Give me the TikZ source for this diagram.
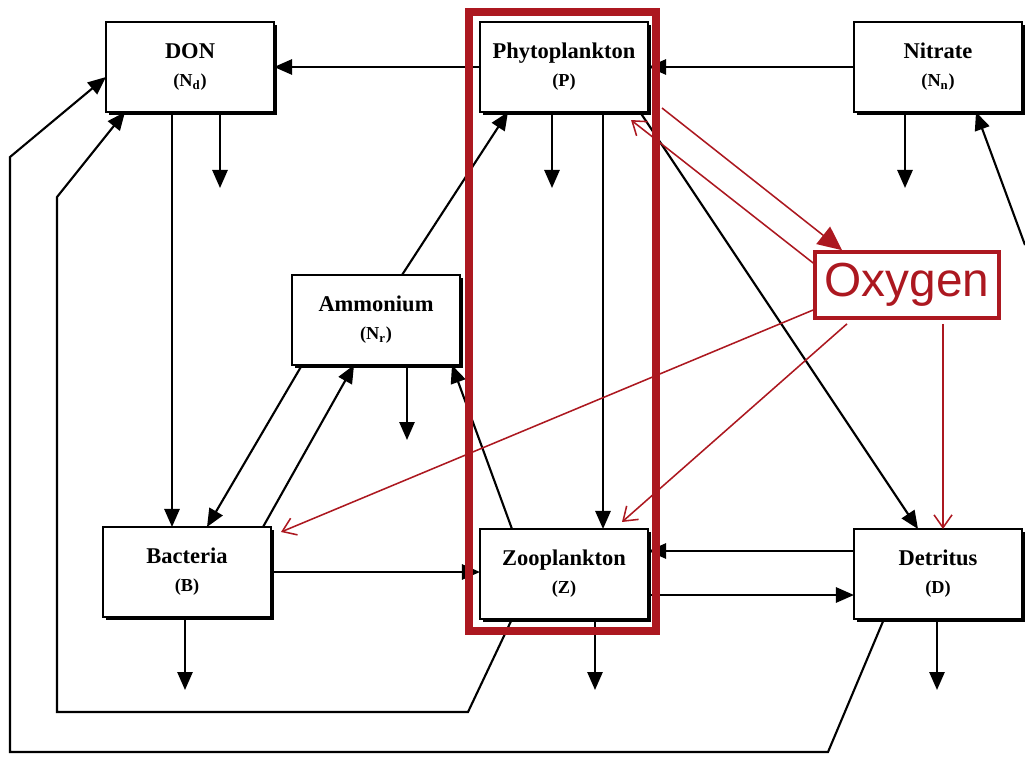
\documentclass[tikz,border=0pt]{standalone}
\usepackage{fontspec}
\setmainfont{Liberation Serif}
\newfontfamily\oxyfont{Liberation Sans}
\usetikzlibrary{arrows.meta,shadows}
\definecolor{oxred}{RGB}{172,24,32}

\begin{document}
\begin{tikzpicture}[x=0.025cm,y=-0.025cm,
    box/.style={draw, line width=1.6pt, fill=white, minimum width=4.2cm, minimum height=2.25cm,
        inner sep=0pt, outer sep=0pt, align=center, font=\fontsize{16}{19}\selectfont\bfseries,
        drop shadow={shadow xshift=2pt, shadow yshift=-2pt, opacity=1, fill=black}},
    oxy/.style={draw=oxred, text=oxred, line width=2.6pt, minimum width=4.6cm, minimum height=1.65cm,
        inner sep=0pt, font=\oxyfont\fontsize{34}{37}\selectfont},
    flow/.style={line width=1.5pt, -{Triangle[length=0.45cm,width=0.38cm]}},
    oflow/.style={oxred, line width=1.1pt, -{Straight Barb[length=0.32cm,width=0.45cm]}}]
    \useasboundingbox (0,0) rectangle (1025,757);

    % compartments
    \node[box] (don) at (190,67) {DON\\[1pt]{\fontsize{13}{15}\selectfont(N\textsubscript{d})}};
    \node[box] (phy) at (564,67) {Phytoplankton\\[1pt]{\fontsize{13}{15}\selectfont(P)}};
    \node[box] (nit) at (938,67) {Nitrate\\[1pt]{\fontsize{13}{15}\selectfont(N\textsubscript{n})}};
    \node[box] (amm) at (376,320) {Ammonium\\[1pt]{\fontsize{13}{15}\selectfont(N\textsubscript{r})}};
    \node[box] (bac) at (187,572) {Bacteria\\[1pt]{\fontsize{13}{15}\selectfont(B)}};
    \node[box] (zoo) at (564,574) {Zooplankton\\[1pt]{\fontsize{13}{15}\selectfont(Z)}};
    \node[box] (det) at (938,574) {Detritus\\[1pt]{\fontsize{13}{15}\selectfont(D)}};
    \node[oxy] (oxy) at (907,285) {Oxygen};

    % losses
    \coordinate (don-loss) at (220,188);
    \coordinate (phy-loss) at (552,188);
    \coordinate (nit-loss) at (905,188);
    \coordinate (amm-loss) at (407,440);
    \coordinate (bac-loss) at (185,690);
    \coordinate (zoo-loss) at (595,690);
    \coordinate (det-loss) at (937,690);
    \foreach \b in {don,phy,nit,amm,bac,zoo,det}
        \draw[flow] (\b.south -| \b-loss) -- (\b-loss);

    \draw[flow] (phy.west) -- (don.east);
    \draw[flow] (nit.west) -- (phy.east);
    \draw[flow] (don.south -| 172,0) -- (bac.north -| 172,0);
    \draw[flow] (phy.south -| 603,0) -- (zoo.north -| 603,0);
    \draw[flow] (phy.south -| 640,0) -- (det.north -| 918,0);
    \draw[flow] (amm.north -| 402,0) -- (phy.south -| 508,0);
    \draw[flow] (amm.south -| 302,0) -- (bac.north -| 207,0);
    \draw[flow] (bac.north -| 263,0) -- (amm.south -| 354,0);
    \draw[flow] (zoo.north -| 512,0) -- (amm.south -| 452,0);
    \draw[flow] (bac.east) -- (zoo.west |- bac.east);
    \draw[flow] (det.west |- 0,551) -- (zoo.east |- 0,551);
    \draw[flow] (zoo.east |- 0,595) -- (det.west |- 0,595);
    \coordinate (nit-src) at (1025,245);
    \draw[flow] (nit-src) -- (nit.south -| 976,0);

    % return paths to DON
    \coordinate (zr1) at (468,712);
    \coordinate (zr2) at (57,712);
    \coordinate (zr3) at (57,197);
    \draw[flow] (zoo.south -| 512,0) -- (zr1) -- (zr2) -- (zr3) -- (don.south -| 125,0);
    \coordinate (dr1) at (828,752);
    \coordinate (dr2) at (10,752);
    \coordinate (dr3) at (10,157);
    \draw[flow] (det.south -| 884,0) -- (dr1) -- (dr2) -- (dr3) -- (don.west |- 0,77);

    % highlight
    \draw[oxred, line width=0.2cm] (469,12) rectangle (656,631);

    % oxygen links
    \draw[oxred, line width=1.1pt, -{Triangle[length=0.6cm,width=0.55cm]}]
        ([shift={(14,-4)}]phy.south east) -- (oxy.north -| 842,0);
    \draw[oflow] (oxy.west |- 0,263) -- ([shift={(-17,8)}]phy.south east);
    \draw[oflow] (oxy.west |- 0,310) -- ([shift={(10,5)}]bac.north east);
    \draw[oflow] ([shift={(-60,4)}]oxy.south) -- ([shift={(58,-7)}]zoo.north);
    \draw[oflow] ([shift={(36,4)}]oxy.south) -- (det.north -| 943,0);

\end{tikzpicture}
\end{document}
